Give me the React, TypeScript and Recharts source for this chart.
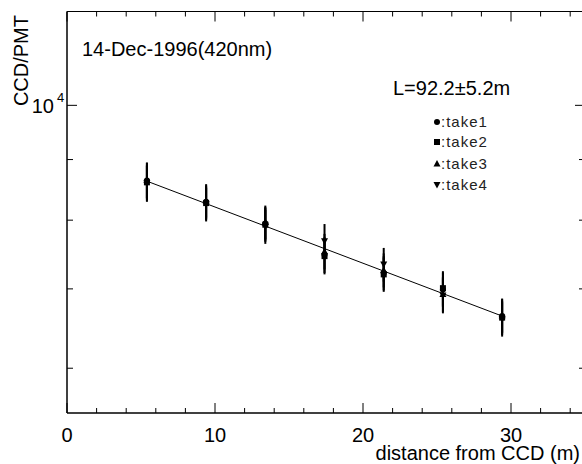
import { ScatterChart, Scatter, XAxis, YAxis, ErrorBar } from 'recharts';

// distances of the measurements (m)
const distance = [5.4, 9.4, 13.4, 17.4, 21.4, 25.4, 29.4];
// CCD/PMT ratio for each take
const take1 = [8640, 8290, 7950, 7480, 7220, 6990, 6640];
const take2 = [8610, 8270, 7930, 7460, 7200, 7010, 6620];
const take3 = [8650, 8310, 7970, 7530, 7260, 6930, 6650];
const take4 = [8590, 8250, 7900, 7680, 7340, 6910, 6600];
const errors = [300, 270, 260, 260, 240, 235, 220];
// fitted attenuation line, end points
const fitX = [5.4, 29.4];
const fitY = [8630, 6640];

const xTicks = [0, 2, 4, 6, 8, 10, 12, 14, 16, 18, 20, 22, 24, 26, 28, 30, 32, 34];
const yTicks = [6000, 7000, 8000, 9000, 10000];

const FONT = 'Liberation Sans, Arial, Helvetica, sans-serif';

const rows = (vals: number[]) => distance.map((x, i) => ({ x, y: vals[i], err: errors[i] }));
const fitRows = fitX.map((x, i) => ({ x, y: fitY[i] }));

const BottomTick = ({ x, y, payload }: any) => {
  const major = payload.value % 10 === 0;
  return (
    <g>
      <line x1={x} x2={x} y1={y} y2={y - (major ? 10 : 5)} stroke="#000" />
      {major && (
        <text x={x} y={y + 29} textAnchor="middle" fontSize={20} fontFamily={FONT} fill="#000">
          {payload.value}
        </text>
      )}
    </g>
  );
};

const TopTick = ({ x, y, payload }: any) => {
  const major = payload.value % 10 === 0;
  return <line x1={x} x2={x} y1={y} y2={y + (major ? 10 : 5)} stroke="#000" />;
};

const LeftTick = ({ x, y, payload }: any) => {
  const major = payload.value === 10000;
  return (
    <g>
      <line x1={x} x2={x + (major ? 10 : 6)} y1={y} y2={y} stroke="#000" />
      {major && (
        <>
          <text x={x - 13} y={y + 8} textAnchor="end" fontSize={20} fontFamily={FONT} fill="#000">10</text>
          <text x={x - 10} y={y - 3} fontSize={13} fontFamily={FONT} fill="#000">4</text>
        </>
      )}
    </g>
  );
};

const RightTick = ({ x, y, payload }: any) => {
  const major = payload.value === 10000;
  return <line x1={x} x2={x - (major ? 10 : 6)} y1={y} y2={y} stroke="#000" />;
};

const Dot = ({ cx, cy }: any) => <circle cx={cx} cy={cy} r={3} fill="#000" />;
const Box = ({ cx, cy }: any) => <rect x={cx - 3} y={cy - 3} width={6} height={6} fill="#000" />;
const Up = ({ cx, cy }: any) => <path d={`M${cx},${cy - 3.5} L${cx + 3.5},${cy + 3} L${cx - 3.5},${cy + 3} Z`} fill="#000" />;
const Down = ({ cx, cy }: any) => <path d={`M${cx},${cy + 3.5} L${cx + 3.5},${cy - 3} L${cx - 3.5},${cy - 3} Z`} fill="#000" />;
const None = () => <g />;

const legend = [
  { name: ':take1', shape: Dot, cy: 122 },
  { name: ':take2', shape: Box, cy: 142 },
  { name: ':take3', shape: Up, cy: 163.5 },
  { name: ':take4', shape: Down, cy: 185 },
];

const series = [
  { data: take1, shape: Dot },
  { data: take2, shape: Box },
  { data: take3, shape: Up },
  { data: take4, shape: Down },
];

export default function App() {
  return (
    <div style={{ position: 'absolute', left: 0, top: 0, width: 582, height: 464, overflow: 'hidden', background: '#fff' }}>
      <ScatterChart width={600} height={464} margin={{ top: 0.5, right: 0, bottom: 0, left: 0 }}>
        <XAxis
          dataKey="x"
          type="number"
          domain={[0, 35]}
          ticks={xTicks}
          interval={0}
          allowDataOverflow
          height={51}
          tickSize={0}
          tickMargin={0}
          tickLine={false}
          axisLine={{ stroke: '#000', strokeWidth: 1.5 }}
          tick={(p: any) => <BottomTick {...p} />}
        />
        <XAxis
          xAxisId="top"
          orientation="top"
          dataKey="x"
          type="number"
          domain={[0, 35]}
          ticks={xTicks}
          interval={0}
          allowDataOverflow
          height={11}
          tickSize={0}
          tickMargin={0}
          tickLine={false}
          axisLine={{ stroke: '#000' }}
          tick={(p: any) => <TopTick {...p} />}
        />
        <YAxis
          dataKey="y"
          type="number"
          scale="log"
          domain={[5500, 12000]}
          ticks={yTicks}
          interval={0}
          allowDataOverflow
          width={67}
          tickSize={0}
          tickMargin={0}
          tickLine={false}
          axisLine={{ stroke: '#000', strokeWidth: 1.5 }}
          tick={(p: any) => <LeftTick {...p} />}
        />
        <YAxis
          yAxisId="right"
          orientation="right"
          dataKey="y"
          type="number"
          scale="log"
          domain={[5500, 12000]}
          ticks={yTicks}
          interval={0}
          allowDataOverflow
          width={15}
          tickSize={0}
          tickMargin={0}
          tickLine={false}
          axisLine={{ stroke: '#000' }}
          tick={(p: any) => <RightTick {...p} />}
        />
        <Scatter data={fitRows} line={{ stroke: '#000', strokeWidth: 1 }} shape={None} isAnimationActive={false} />
        {series.map((s, i) => (
          <Scatter key={i} data={rows(s.data)} shape={s.shape} isAnimationActive={false}>
            <ErrorBar dataKey="err" direction="y" width={0} stroke="#000" strokeWidth={2} isAnimationActive={false} />
          </Scatter>
        ))}
        <text transform="translate(28,15) rotate(-90)" textAnchor="end" fontSize={20} fontFamily={FONT} fill="#000">
          CCD/PMT
        </text>
        <text x={82} y={56} fontSize={20} fontFamily={FONT} fill="#000">14-Dec-1996(420nm)</text>
        <text x={393} y={95} fontSize={20} fontFamily={FONT} fill="#000">L=92.2±5.2m</text>
        {legend.map((l) => (
          <g key={l.name}>
            <l.shape cx={437} cy={l.cy} />
            <text x={441} y={l.cy + 5} fontSize={15} letterSpacing={1} fontFamily={FONT} fill="#222">{l.name}</text>
          </g>
        ))}
        <text x={580} y={460} textAnchor="end" fontSize={20} fontFamily={FONT} fill="#000">distance from CCD (m)</text>
      </ScatterChart>
    </div>
  );
}
